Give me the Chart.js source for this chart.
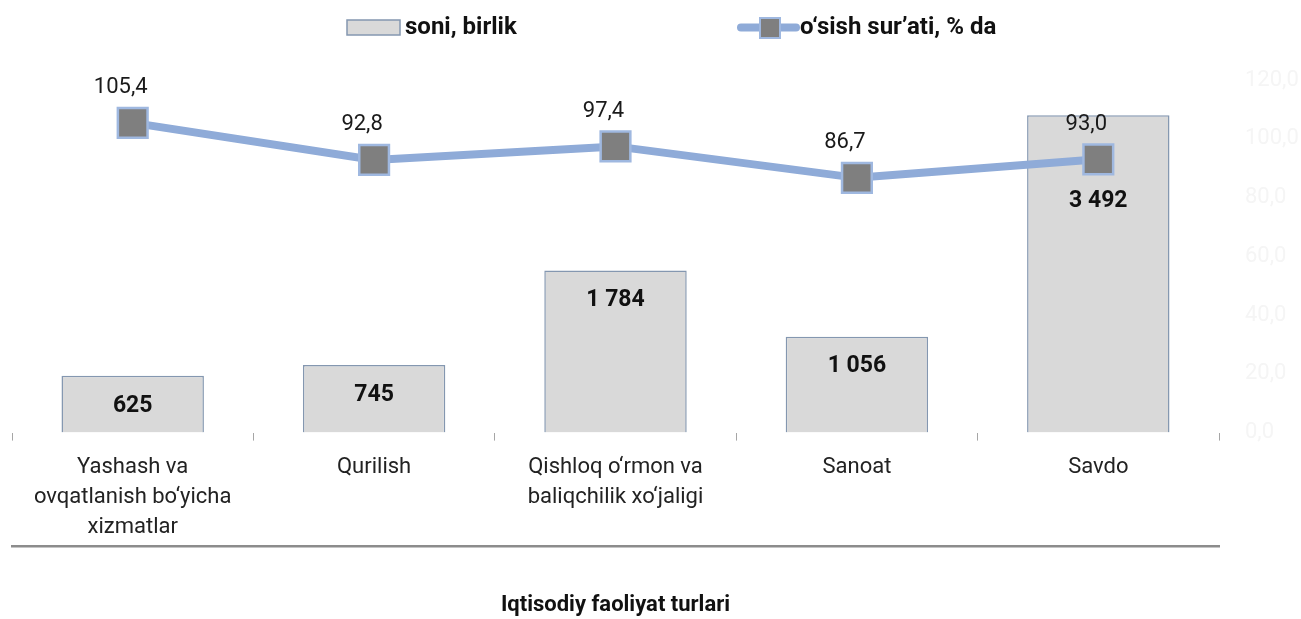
<!DOCTYPE html>
<html><head><meta charset="utf-8">
<script src="https://cdn.jsdelivr.net/npm/chart.js@4.4.1/dist/chart.umd.min.js"></script>
<style>html,body{margin:0;padding:0;background:#fff;overflow:hidden}</style>
</head><body>
<canvas id="c" width="1301" height="619" style="display:block;width:1301px;height:619px"></canvas>
<script>
const categories = [['Yashash va','ovqatlanish bo‘yicha','xizmatlar'], 'Qurilish', ['Qishloq o‘rmon va','baliqchilik xo‘jaligi'], 'Sanoat', 'Savdo'];
const countValues = [625, 745, 1784, 1056, 3492];
const growthValues = [105.4, 92.8, 97.4, 86.7, 93.0];
const countLabels = ['625', '745', '1 784', '1 056', '3 492'];
const growthLabels = ['105,4', '92,8', '97,4', '86,7', '93,0'];
const rightTickValues = [0, 20, 40, 60, 80, 100, 120];
const seriesNames = ['soni, birlik', 'o‘sish sur’ati, % da'];
const axisTitle = 'Iqtisodiy faoliyat turlari';

const FONT = 'Roboto';
const BAR_FILL = '#d9d9d9', BAR_BORDER = '#8497b0';
const LINE_COLOR = '#8fabd8', MARK_FILL = '#7f7f7f', MARK_BORDER = '#9fb8e0';

const labelsPlugin = {
  id: 'valueLabels',
  afterDatasetsDraw(chart) {
    const ctx = chart.ctx;
    const barMeta = chart.getDatasetMeta(0);
    const lineMeta = chart.getDatasetMeta(1);
    ctx.save();
    ctx.textAlign = 'center';
    ctx.textBaseline = 'middle';
    ctx.fillStyle = '#111';
    ctx.font = 'bold 23px ' + FONT;
    barMeta.data.forEach((el, i) => {
      const p = lineMeta.data[i];
      let y = el.y + 30;
      if (p && p.y + 42 > y && p.y < el.base) y = Math.max(y, p.y + 42);
      ctx.fillText(countLabels[i], el.x, y);
    });
    ctx.font = '22px ' + FONT;
    ctx.fillStyle = '#1a1a1a';
    lineMeta.data.forEach((el, i) => {
      ctx.fillText(growthLabels[i], el.x - 12, el.y - 35);
    });
    ctx.restore();
  },
  afterDraw(chart) {
    const ctx = chart.ctx;
    ctx.save();
    ctx.fillStyle = BAR_FILL;
    ctx.strokeStyle = BAR_BORDER;
    ctx.lineWidth = 1.5;
    ctx.fillRect(347, 20, 53, 15);
    ctx.strokeRect(347, 20, 53, 15);
    ctx.fillStyle = '#111';
    ctx.font = 'bold 24px ' + FONT;
    ctx.textBaseline = 'middle';
    ctx.textAlign = 'left';
    ctx.fillText(seriesNames[0], 405, 28);
    ctx.strokeStyle = LINE_COLOR;
    ctx.lineWidth = 8;
    ctx.lineCap = 'round';
    ctx.beginPath();
    ctx.moveTo(741, 27.5);
    ctx.lineTo(796, 27.5);
    ctx.stroke();
    ctx.fillStyle = MARK_FILL;
    ctx.strokeStyle = MARK_BORDER;
    ctx.lineWidth = 2;
    ctx.fillRect(760, 18, 20, 20);
    ctx.strokeRect(760, 18, 20, 20);
    ctx.fillStyle = '#111';
    ctx.fillText(seriesNames[1], 800, 28);
    ctx.restore();
  }
};

new Chart(document.getElementById('c'), {
  data: {
    labels: categories,
    datasets: [
      {
        type: 'bar', label: seriesNames[0], data: countValues, yAxisID: 'y', order: 2,
        backgroundColor: BAR_FILL, borderColor: BAR_BORDER, borderWidth: 1.5,
        categoryPercentage: 1, barPercentage: 0.59
      },
      {
        type: 'line', label: seriesNames[1], data: growthValues, yAxisID: 'y1', order: 1,
        borderColor: LINE_COLOR, borderWidth: 8, tension: 0,
        pointStyle: 'rect', pointRadius: 21, pointHoverRadius: 21,
        pointBackgroundColor: MARK_FILL, pointBorderColor: MARK_BORDER, pointBorderWidth: 2.5
      }
    ]
  },
  options: {
    responsive: false,
    devicePixelRatio: 1,
    animation: false,
    events: [],
    layout: { autoPadding: false, padding: { left: 12, top: 80, right: 0, bottom: 0 } },
    plugins: { legend: { display: false }, tooltip: { enabled: false } },
    scales: {
      x: {
        type: 'category', position: 'bottom', offset: true,
        grid: { display: true, drawOnChartArea: false, drawTicks: true, tickLength: 8, color: '#a6a6a6', lineWidth: 1, offset: true },
        border: { display: false },
        afterFit: s => { s.height = 114; s.paddingLeft = 0; s.paddingRight = 0; },
        ticks: { color: '#222', padding: 12, maxRotation: 0, autoSkip: false, font: { family: FONT, size: 22, lineHeight: '30px' } }
      },
      x2: {
        type: 'category', position: 'bottom', weight: 10, offset: true,
        grid: { display: true, drawOnChartArea: false, drawTicks: false },
        border: { display: true, color: '#8c8c8c', width: 2.5 },
        ticks: { display: false },
        afterFit: s => { s.paddingLeft = 0; s.paddingRight = 0; },
        title: { display: true, text: axisTitle, color: '#111', font: { family: FONT, size: 22, weight: 'bold' }, padding: { top: 46, bottom: 0 } }
      },
      y: { type: 'linear', position: 'left', display: false, min: 0, max: 3880 },
      y1: {
        type: 'linear', position: 'right', min: 0, max: 120,
        grid: { display: false, drawTicks: false },
        border: { display: false },
        afterBuildTicks: s => { s.ticks = rightTickValues.map(v => ({ value: v })); },
        afterFit: s => { s.width = 82; },
        ticks: {
          color: '#f5f5f5', padding: 26,
          font: { family: FONT, size: 22 },
          callback: v => v.toFixed(1).replace('.', ',')
        }
      }
    }
  },
  plugins: [labelsPlugin]
});
</script>
</body></html>
